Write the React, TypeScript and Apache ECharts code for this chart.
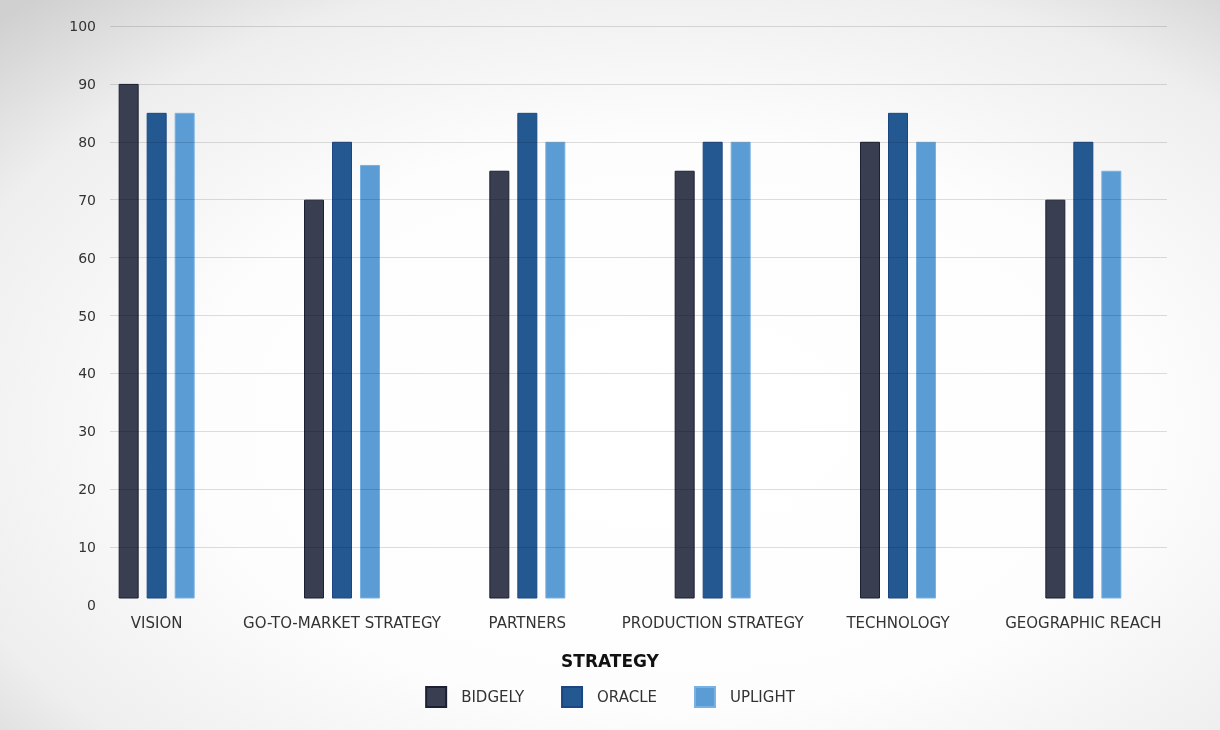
import React, { useEffect, useRef } from "react";
import * as echarts from "echarts";

const categories = [
  "VISION",
  "GO-TO-MARKET STRATEGY",
  "PARTNERS",
  "PRODUCTION STRATEGY",
  "TECHNOLOGY",
  "GEOGRAPHIC REACH",
];
const seriesNames = ["BIDGELY", "ORACLE", "UPLIGHT"];
const bidgely = [90, 70, 75, 75, 80, 70];
const oracle = [85, 80, 85, 80, 85, 80];
const uplight = [85, 76, 80, 80, 80, 75];
const yMin = 0;
const yMax = 100;
const yInterval = 10;
const axisTitle = "STRATEGY";

const FONT = "DejaVu Sans";

export default function App() {
  const ref = useRef<HTMLDivElement>(null);
  useEffect(() => {
    if (!ref.current) return;
    const chart = echarts.init(ref.current, null, { renderer: "svg" });
    const barStyles = [
      { color: "#393f51", borderColor: "#1b2033", borderWidth: 1 },
      { color: "#245891", borderColor: "#1c4683", borderWidth: 1 },
      { color: "#5a9cd3", borderColor: "#78b2e2", borderWidth: 1 },
    ];
    const values = [bidgely, oracle, uplight];
    const option: any = {
      animation: false,
      textStyle: { fontFamily: FONT },
      backgroundColor: {
        type: "radial",
        x: 0.55,
        y: 0.58,
        r: 0.78,
        colorStops: [
          { offset: 0, color: "#ffffff" },
          { offset: 0.5, color: "#fdfdfd" },
          { offset: 0.8, color: "#eeeeee" },
          { offset: 1, color: "#d0d0d1" },
        ],
      },
      title: {
        text: axisTitle,
        left: "center",
        top: 647,
        textStyle: { fontFamily: FONT, fontWeight: "bold", fontSize: 17, color: "#111111" },
      },
      legend: {
        data: seriesNames,
        left: "center",
        top: 681,
        icon: "rect",
        itemWidth: 20,
        itemHeight: 20,
        itemGap: 37,
        textStyle: { fontFamily: FONT, fontSize: 15, color: "#333333", padding: [0, 0, 0, 10] },
      },
      grid: [
        { left: 110, right: 53, top: 26, bottom: 125 },
        { left: 64, right: 44, top: 26, bottom: 132 },
      ],
      xAxis: [
        { gridIndex: 0, type: "value", show: false, min: 0, max: 1 },
        {
          gridIndex: 1,
          type: "category",
          data: categories,
          axisLine: { show: false },
          axisTick: { show: false },
          axisLabel: { interval: 0, margin: 17, fontSize: 15, color: "#333333", fontFamily: FONT },
        },
      ],
      yAxis: [
        {
          gridIndex: 0,
          type: "value",
          min: yMin,
          max: yMax,
          interval: yInterval,
          z: 5,
          axisLine: { show: false },
          axisTick: { show: false },
          axisLabel: { margin: 14, fontSize: 14, color: "#333333", fontFamily: FONT },
          splitLine: { show: true, showMinLine: false, lineStyle: { color: "rgba(0,0,0,0.13)", width: 1 } },
        },
        { gridIndex: 1, type: "value", min: 1.2, max: yMax, show: false, splitLine: { show: false } },
      ],
      series: seriesNames.map((name, i) => ({
        name,
        type: "bar",
        xAxisIndex: 1,
        yAxisIndex: 1,
        data: values[i],
        barWidth: 20,
        barGap: "40%",
        clip: true,
        itemStyle: barStyles[i],
      })),
    };
    chart.setOption(option);
    return () => chart.dispose();
  }, []);
  return (
    <div
      ref={ref}
      style={{ position: "fixed", left: 0, top: 0, width: 1220, height: 730 }}
    />
  );
}
